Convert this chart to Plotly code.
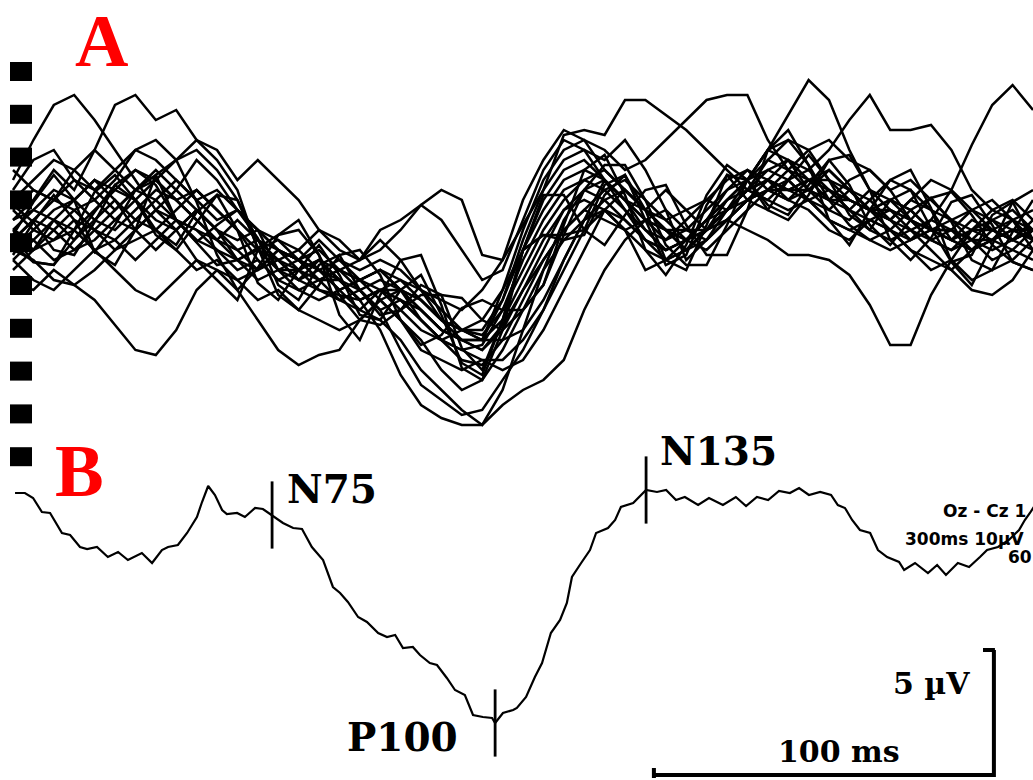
import plotly.graph_objects as go

# ---------------------------------------------------------------
# A: single VEP sweeps (Oz - Cz), sampled every 6 ms, values in uV
# (positive plotted downwards, clinical convention)
# ---------------------------------------------------------------
sweep_t = [0, 6, 12, 18, 24, 30, 36, 42, 48, 54, 60, 66, 72, 78, 84, 90, 96,
           102, 108, 114, 120, 126, 132, 138, 144, 150, 156, 162, 168, 174,
           180, 186, 192, 198, 204, 210, 216, 222, 228, 234, 240, 246, 252,
           258, 264, 270, 276, 282, 288, 294, 300]

sweep_01 = [-6, -10, -13.5, -14.5, -12, -9, -6, -3, -5, -8, -6, -3, -1, 1, 2, 0, 2, 4, 3, 5,
            8, 10, 11, 10.5, 7, 2, -2, -5, -6, -5, -3, -1, 1, 0, -2, -5, -7, -6, -4, -5,
            -7, -5, -3, -2, -4, -3, 0, 1, -1, -2, 0]
sweep_02 = [-2, -4, -7, -5, -9, -13.5, -14.5, -12, -13, -10, -9, -6, -8, -6, -4, -1, 1, 2, 0, 2,
            5, 8, 9, 9, 6, 1, -4, -7, -8, -6, -4, -3, -5, -3, -1, -3, -6, -8, -7, -5,
            -4, -6, -7, -5, -2, 0, 1, -1, -3, -2, 1]
sweep_03 = [1, 2, 4, 4.5, 6, 8.5, 11, 11.5, 9, 5, 3, 4, 3, 1, 2, 4, 3, 5, 7, 6,
            8, 10, 12, 12.5, 10, 6, 2, -1, -3, -2, -1, 1, 2, 1, -1, -2, -4, -5, -6, -4,
            -2, -1, -2, -1, 1, 2, 3, 1, 0, 1, 2]
sweep_04 = [-1, 1, 0, -2, -1, 1, -1, -3, -1, 2, 3, 5, 8, 11, 12.5, 11.5, 11, 8, 6, 8,
            10, 13, 15, 14, 11, 7, 3, 0, -2, -3, -2, 0, 1, 0, -2, -4, -5, -7, -6, -4,
            -3, -5, -4, -2, 0, -1, -2, 0, 1, 0, -1]
sweep_05 = [0, -2, -1, 1, 0, -2, -4, -2, -1, -3, -1, 1, 3, 2, 4, 5, 5.5, 6, 9, 13.5,
            16.5, 17.8, 18.5, 18.5, 16.5, 15, 14, 12, 7, 3, 0, -2, -1, 1, 0, -2, -4, -5, -7, -6,
            -4, -3, -5, -4, -2, -1, 0, -2, -1, 0, -1]
sweep_06 = [-3, -1, -3, -4, -2, -1, -3, -5, -4, -2, 0, 1, 0, 2, 4, 3, 5, 7, 8, 10,
            13, 15, 17, 18.5, 15, 9, 3, -2, -5, -6, -4, -2, 0, -1, -3, -5, -6, -7, -8, -6,
            -5, -4, -3, -4, -3, -1, -1, 0, -2, -1, 0]
sweep_07 = [2, 0, -2, -1, 1, 0, -2, -1, -3, -5, -3, -1, 2, 4, 3, 5, 6, 5, 7, 11,
            14.5, 16, 17.5, 17, 14, 11, 7, 2, -2, -4, -5, -3, -1, 1, -1, -3, -5, -6, -5, -6,
            -7, -5, -3, -2, -1, -2, -1, 1, 0, -1, -1]
sweep_08 = [-1, -3, -2, 0, -2, -4, -2, -4, -6, -4, -2, -3, -1, 0, 1, -1, 0, 2, 1, -1,
            -3.5, -5, -4, 1.5, 2, -1.5, -5, -10.5, -11, -10.5, -14, -14, -12.5, -11, -9, -7, -5, -8, -10, -9,
            -6, -5, -3, -2, -4, -6, -5, -3, -1, 0, -2]
sweep_09 = [0, 1, -1, -3, -4, -2, -1, -3, -2, 0, 1, 3, 2, 4, 5, 4, 3, 4, 6, 5,
            6, 8, 10, 11, 9, 5, 1, -3, -5, -4, -2, 0, 1, 0, -2, -4, -6, -9, -12.5, -16,
            -14, -9, -5, -3, -1, 0, -1, -3, -2, 0, 1]
sweep_10 = [-2, -3, -5, -4, -6, -5, -7, -6, -4, -5, -3, -1, 1, 0, 2, 1, 3, 4, 3, 4,
            5, 7, 9, 9.5, 7, 3, -1, -4, -6, -7, -5, -3, -1, 0, -1, -2, -1, 0, 1.5, 1.5,
            2, 3.5, 6.5, 10.5, 10.5, 5.5, 2, -1, -2, -3, -1]
sweep_11 = [-1, 0, 2, 1, -1, 0, 2, 0, -2, -1, 1, 2, 4, 3, 2, 3, 5, 4, 3, 5,
            7, 9, 10, 11, 8.5, 5, 2, -1, -3, -5, -6, -4, -2, -3, -4, -3, -5, -4, -3, -4,
            -2, -1, 0, 1, 0, -2, -5, -9.5, -13.5, -15.5, -13]
sweep_12 = [-4, -6, -8, -7, -5, -7, -9, -8, -6, -4, -5, -3, -1, 3, 5, 6, 5, 4, 5, 7,
            9, 10, 9, 8, 5, 1, -3, -6, -7, -6, -4, -1, 0, -2, -4, -6, -7, -5, -4, -6,
            -5, -3, -1, 0, -1, 1, 3, 5, 5.5, 4, 1]
sweep_13 = [-3, -5, -4, -6, -5, -3, -5, -7, -5, -3, -1, 0, -1, 1, 2, 3, 2, 3, 2, 3,
            5, 6, 7, 5, 2, -4, -8, -11, -10, -9, -7, -8, -10, -12, -14, -14.5, -14.5, -10, -7, -9,
            -10, -8, -7, -5, -6, -4, -2, -3, -4, -2, -1]
sweep_14 = [-5, -8, -9, -6, -4, -6, -9, -10, -8, -9, -7, -4, 0, 1, 3, 2, 4, 6, 5, 6,
            7, 9, 10, 10, 8, 4, 0, -3, -4, -3, -1, -2, -3, -1, 0, -2, -4, -6, -8, -7,
            -9, -12, -14.5, -11, -11, -11.5, -9, -5, -3, -4, -2]
sweep_15 = [4, 5, 3, 4.5, 3, 1, 0, -1, 1, 3, 2, 4, 6, 5, 7, 8, 9, 8, 6, 8,
            11, 12, 13, 12, 12, 10, 7, 3, -1, -3, -1, 3, 2, 0, 1, -1, -3, -5, -4, -3,
            -1, 0, -2, -1, 1, 3, 2, 4, 3, 2, 0]
sweep_16 = [-7, -5, -4, -7, -9, -7, -5, -6, -8, -10, -8, -5, 1, 2, 1, 3, 4, 6, 5, 4,
            6, 8, 9, 10, 6, 0, -5, -8, -9, -8, -10, -7, -3, 2, 0, -3, -5, -6, -5, -4,
            -5, -3, -2, -3, -2, 0, 1, 0, 2, 1, -1]
sweep_17 = [0, -2, -4, -3, -1, -3, -5, -4, -2, -1, 0, -2, 0, 3, 4, 2, 3, 2, -1, -2,
            -3.5, -2, 1, 4, 3, -2, -7, -10, -9, -6, -3, 0, 2, 1, -1, -4, -6, -9, -8, -5,
            -3, -2, -4, -6, -5, -3, -2, -1, 0, -2, -3]
sweep_18 = [1, -1, 0, -1, -3, -5, -4, -6, -4, -2, 0, 2, 3, 1, 2, 4, 6, 7, 5, 6,
            8, 10, 11, 12, 13, 12, 9, 5, 1, -3, -5, -3, -2, 0, -1, -3, -5, -4, -6, -7,
            -5, -4, -3, -1, 0, -1, 0, 1, 0, -1, 0]
sweep_19 = [2, 4, 5, 3, 1, 3, 5, 6, 4, 2, 4, 6, 1, 3, 3, 2, 4, 6, 5, 5,
            6, 8, 9, 10, 5, -1, -6, -9, -10, -7, -5, -3, -1, 0, -2, -3, -4, -5, -5, -6,
            -6, -4, -3, -4, -3, -1, 0, -1, -1, 0, -1]
sweep_20 = [3, 1, -2, -4, -6, -4, -1, 1, -1, -3, -1, 2, 1, 2, 3, 4, 4, 5, 4, 5,
            7, 9, 10, 10, 10, 9, 6, 2, -2, -6, -4, -2, -1, -1, -1, -3, -5, -6, -5, -5,
            -4, -4, -3, -3, -2, -1, -1, 0, 0, -1, -1]
sweep_21 = [-0.5, 2.2, 2.5, -1, -4.8, -6.5, -4, -0.5, 1, -1.8, -4.5, -4, 0.8, 5.5, 7, 4.5, 1.5, 1, 3.5, 8,
            10.5, 9.5, 6.8, 6, 7, 7, 4.5, -1.5, -7, -8.5, -4.5, 1, 3.5, 0.5, -4.5, -7.5, -6, -3, -2, -4.5,
            -8, -8.5, -5, 0, 2, -0.2, -3.8, -4.5, -1.5, 2.2, 3]
sweep_22 = [-3.5, -1.8, 1, 1.5, -1.8, -5.5, -4, -1, 0.5, -2.8, -4.5, -1, 4.3, 6, 3, 0.5, 3.5, 7.5, 8, 5,
            3.5, 7.5, 12.3, 13.5, 8, 1, -0.5, 0, -0.5, -4.5, -6.5, -3, 2, 3, -1.5, -6.5, -6, -3.5, -2.5, -5.5,
            -8, -5.5, -1.5, 0.5, -2, -4.2, -1.8, 2, 3, -0.8, -4]
sweep_23 = [-0.5, -3.8, -6.5, -4, 1.2, 2.5, -1, -6.5, -8, -3.8, 1.5, 5, 2.8, -0.5, -2, 1.5, 7.5, 10, 5.5, 2,
            1.5, 6.5, 12.8, 14, 9, 1, -4.5, -4.5, -1, 0.5, -2.5, -5, -5.5, -1.5, 1.5, 1.5, -3, -9, -11, -7.5,
            -2, 0.5, -3, -6, -7, -3.2, 2.2, 4.5, 0.5, -3.8, -5]
sweep_24 = [0.5, 2.2, 2.5, 0, -2.8, -5.5, -7, -5.5, -2, 0.2, 2.5, 2, 0.8, -0.5, -1, 1.5, 5.5, 8, 8.5, 7,
            5.5, 5.5, 5.8, 8, 9, 7, 4.5, -0.5, -5, -7.5, -7.5, -4, 0.5, 2.5, 2.5, -1.5, -6, -9, -10, -7.5,
            -4, -1.5, 0, -1, -3, -4.2, -4.8, -2.5, 0.5, 2.2, 3]
sweep_25 = [1.5, -1.8, -4.5, -2, 1.2, -1.5, -5, -6.5, -2, 0.2, -1.5, -3, -0.2, 4.5, 6, 2.5, 1.5, 5, 7.5, 7,
            4.5, 5.5, 10.8, 13, 8, 1, -0.5, -0.5, -1, -5.5, -6.5, -2, 2.5, 1.5, -3.5, -6.5, -4, -3, -6, -8.5,
            -6, -2.5, -1, -4, -5, -1.2, 2.2, 1.5, -2.5, -3.8, 0]

sweeps = [sweep_01, sweep_02, sweep_03, sweep_04, sweep_05, sweep_06, sweep_07,
          sweep_08, sweep_09, sweep_10, sweep_11, sweep_12, sweep_13, sweep_14,
          sweep_15, sweep_16, sweep_17, sweep_18, sweep_19, sweep_20, sweep_21,
          sweep_22, sweep_23, sweep_24, sweep_25]

# ---------------------------------------------------------------
# B: averaged response (ms, uV)
# ---------------------------------------------------------------
avg_t = [0.6, 3.5, 5.9, 8.5, 10.9, 12.4, 14.4, 16.8, 19.7, 21.8, 24.7, 27.9, 30.9,
         33.8, 37.9, 40.9, 43.8, 45.6, 48.5, 51.2, 54.1, 55.6, 57.4, 59.4, 61.5,
         62.9, 65.9, 68.2, 71.2, 73.5, 76.2, 79.4, 82.4, 85.0, 87.9, 91.2, 94.1,
         96.2, 98.5, 101.5, 104.1, 107.4, 110.0, 112.4, 114.7, 117.6, 119.7, 122.6,
         124.7, 127.6, 130.0, 132.9, 135.3, 138.2, 140.9, 141.8, 144.1, 147.1, 148.2,
         150.9, 153.5, 155.6, 158.2, 160.9, 162.9, 164.4, 167.1, 169.7, 171.5, 175.0,
         177.1, 178.8, 182.4, 184.7, 186.2, 189.4, 192.1, 195.0, 197.6, 201.5, 204.7,
         208.8, 212.6, 215.6, 218.8, 222.1, 225.3, 228.5, 231.2, 234.1, 237.4, 240.6,
         242.6, 244.7, 246.8, 249.1, 252.1, 254.4, 257.1, 260.6, 262.1, 265.3, 269.1,
         271.8, 274.4, 277.9, 281.2, 284.4, 286.5, 289.7, 292.9, 295.9, 297.6, 299.1,
         300.6]
avg_v = [0.04, 0.04, 0.24, 0.8, 0.84, 1.2, 1.64, 1.72, 2.2, 2.28, 2.2, 2.6, 2.4,
         2.72, 2.44, 2.84, 2.32, 2.2, 2.12, 1.64, 1.0, 0.4, -0.24, 0.12, 0.72,
         0.88, 0.84, 1.0, 0.64, 0.68, 0.92, 1.24, 1.44, 1.48, 2.2, 2.72, 3.8,
         4.04, 4.4, 5.0, 5.2, 5.64, 5.8, 5.72, 6.24, 6.2, 6.52, 6.84,
         6.92, 7.44, 7.92, 8.12, 8.92, 9.0, 9.04, 9.24, 8.84, 8.72, 8.64,
         8.2, 7.4, 6.84, 5.64, 5.12, 4.44, 3.4, 2.84, 2.32, 1.64, 1.44,
         1.12, 0.6, 0.44, 0.12, -0.08, 0.0, -0.08, 0.32, 0.2, 0.52, 0.24,
         0.52, 0.2, 0.56, 0.2, 0.32, -0.04, 0.04, -0.16, 0.12, 0.0, 0.12,
         0.52, 0.64, 1.12, 1.52, 1.64, 2.32, 2.6, 2.8, 3.12, 2.84, 3.24,
         2.92, 3.32, 2.84, 3.0, 2.6, 2.32, 2.2, 1.92, 1.52, 1.12, 0.84,
         0.52]

peak_names = ["N75", "P100", "N135"]
peak_t = [76.2, 141.8, 186.2]
peak_v = [0.92, 9.24, -0.08]

# calibration bar
scale_ms = 100
scale_uv = 5
scale_corner_t = 288.5
scale_corner_v = 11.32

W, H = 1033, 780

fig = go.Figure()

for s in sweeps:
    fig.add_trace(go.Scatter(x=sweep_t, y=s, yaxis="y2", mode="lines",
                             line=dict(color="black", width=2.5),
                             hoverinfo="skip", showlegend=False))

fig.add_trace(go.Scatter(x=avg_t, y=avg_v, mode="lines",
                         line=dict(color="black", width=2.2),
                         hoverinfo="skip", showlegend=False))

fig.add_trace(go.Scatter(x=peak_t, y=peak_v, mode="markers",
                         marker=dict(symbol="line-ns", size=48,
                                     line=dict(color="black", width=2.8)),
                         hoverinfo="skip", showlegend=False))

# calibration bar: horizontal (time) and vertical (amplitude) limbs with end ticks
t0 = scale_corner_t - scale_ms
v1 = scale_corner_v - scale_uv
bar_x = [t0, scale_corner_t, scale_corner_t, None, t0, t0, None,
         scale_corner_t - 3.2, scale_corner_t + 0.3]
bar_y = [scale_corner_v, scale_corner_v, v1, None,
         scale_corner_v - 0.28, scale_corner_v + 0.12, None, v1, v1]
fig.add_trace(go.Scatter(x=bar_x, y=bar_y, mode="lines",
                         line=dict(color="black", width=4),
                         hoverinfo="skip", showlegend=False))

annotations = []
serif = "DejaVu Serif"
label_offsets = {"N75": ("left", 13, 26.5),
                 "P100": ("right", -35, -14),
                 "N135": ("left", 12, 39)}
for name, t, v in zip(peak_names, peak_t, peak_v):
    anchor, dx, dy = label_offsets[name]
    annotations.append(dict(x=t, y=v, xref="x", yref="y", text="<b>%s</b>" % name,
                            showarrow=False, xanchor=anchor, yanchor="middle",
                            xshift=dx, yshift=dy,
                            font=dict(family=serif, size=39, color="black")))


def px(xp, yp):
    return xp / W, 1 - yp / H


for txt, xp, yp, size in [("A", 73, 41, 74), ("B", 53, 471, 73)]:
    ax, ay = px(xp, yp)
    annotations.append(dict(x=ax, y=ay, xref="paper", yref="paper",
                            text="<b>%s</b>" % txt, showarrow=False,
                            xanchor="left", yanchor="middle",
                            font=dict(family="Liberation Serif", size=size, color="#ff0000")))

for txt, xp, yp, anchor in [("5 µV", 972, 683, "right"), ("100 ms", 776, 751, "left")]:
    ax, ay = px(xp, yp)
    annotations.append(dict(x=ax, y=ay, xref="paper", yref="paper",
                            text="<b>%s</b>" % txt, showarrow=False,
                            xanchor=anchor, yanchor="middle",
                            font=dict(family=serif, size=30, color="black")))

for txt, xp, yp in [("Oz - Cz 1", 941, 511), ("300ms 10µV", 903, 539), ("60", 1006, 557)]:
    ax, ay = px(xp, yp)
    annotations.append(dict(x=ax, y=ay, xref="paper", yref="paper",
                            text="<b>%s</b>" % txt, showarrow=False,
                            xanchor="left", yanchor="middle",
                            font=dict(family="DejaVu Sans", size=17, color="black")))

# dotted vertical marker column at the left edge
shapes = []
for k in range(10):
    top = 62 + 42.8 * k
    x0, y0 = px(10, top)
    x1, y1 = px(32, top + 19)
    shapes.append(dict(type="rect", xref="paper", yref="paper",
                       x0=x0, x1=x1, y0=y1, y1=y0,
                       fillcolor="black", line=dict(width=0), layer="above"))

fig.update_layout(
    width=W, height=H,
    margin=dict(l=0, r=0, t=0, b=0),
    paper_bgcolor="white", plot_bgcolor="white",
    xaxis=dict(range=[-13 / 3.4, 300], visible=False, fixedrange=True),
    yaxis=dict(range=[11.52, -19.68], visible=False, fixedrange=True),
    yaxis2=dict(range=[54, -24], overlaying="y", visible=False, fixedrange=True),
    annotations=annotations,
    shapes=shapes,
    hovermode=False,
)

fig.write_html("out.html")
